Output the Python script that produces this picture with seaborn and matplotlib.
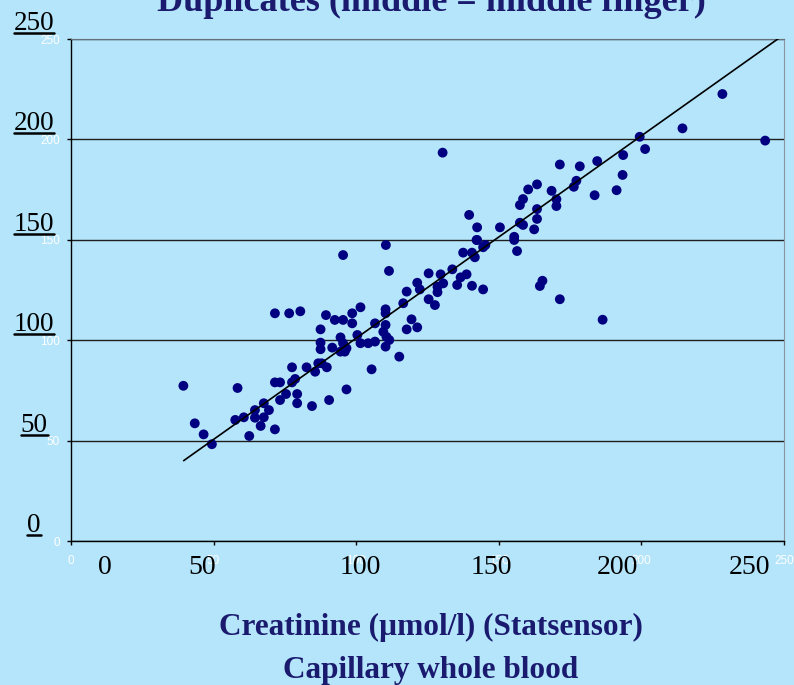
import numpy as np
import pandas as pd
import matplotlib
matplotlib.use("Agg")
import matplotlib.pyplot as plt
import matplotlib.transforms as mtransforms
from matplotlib.lines import Line2D
import seaborn as sns

# creatinine, statsensor (x) vs middle finger duplicate (y)
statsensor = [39.4, 58.4, 43.4, 46.5, 49.4, 57.6, 60.6, 62.5, 64.5, 64.5, 66.5, 67.6, 67.6, 69.4,
              71.5, 71.5, 73.3, 73.3, 75.4, 77.5, 77.5, 78.6, 79.3, 79.3, 82.6, 84.5, 85.6, 86.7,
              87.9, 89.7, 90.5,
              71.5, 76.5, 80.4, 89.4, 92.5, 95.4, 98.6, 101.5, 98.6, 87.5, 87.5, 87.5, 91.6, 94.5,
              95.4, 94.5, 96.0, 96.6, 100.4, 101.5, 104.2, 106.6, 106.6, 109.5, 110.3, 110.3, 110.3,
              110.6, 111.6, 110.3, 105.4, 96.6, 115.1,
              95.4, 110.4, 111.5, 116.5, 117.7, 119.4, 121.4, 117.7, 121.4, 122.3, 125.4, 125.4,
              127.6, 129.6, 130.5, 128.5, 128.5, 133.7, 135.4, 136.6, 138.7, 140.6, 144.5, 137.5,
              140.6, 141.6, 144.5, 145.3, 142.2,
              130.3, 171.4, 178.4, 163.4, 160.3, 168.5, 158.5, 157.4, 170.2, 170.2, 176.3, 177.2,
              163.4, 163.4, 162.4, 157.4, 158.5, 150.4, 155.4, 155.4, 156.4, 139.6, 142.4, 142.4,
              228.4, 214.4, 199.4, 243.4, 201.3, 193.6, 184.5, 193.4, 191.3, 183.6,
              165.3, 164.4, 171.4, 186.4]
middle = [77.3, 76.2, 58.6, 53.1, 48.2, 60.3, 61.6, 52.3, 65.2, 61.4, 57.3, 68.6, 61.6, 65.2,
          55.6, 79.0, 79.0, 70.2, 73.2, 86.5, 79.0, 80.7, 73.2, 68.6, 86.5, 67.2, 84.3, 88.5,
          88.5, 86.5, 70.2,
          113.4, 113.4, 114.4, 112.5, 110.1, 110.1, 113.4, 116.4, 108.4, 105.4, 98.8, 95.5, 96.3, 101.4,
          98.5, 94.3, 94.3, 96.0, 102.6, 98.5, 98.5, 99.3, 108.4, 104.2, 115.4, 113.4, 107.6,
          101.7, 100.1, 96.8, 85.5, 75.5, 91.8,
          142.4, 147.4, 134.5, 118.4, 124.2, 110.4, 106.4, 105.4, 128.6, 125.3, 133.3, 120.4,
          117.5, 132.8, 128.3, 126.6, 123.9, 135.3, 127.5, 131.3, 132.8, 127.1, 125.3, 143.6,
          143.6, 141.3, 146.3, 147.4, 149.9,
          193.4, 187.5, 186.6, 177.6, 175.1, 174.4, 170.3, 167.3, 170.2, 166.8, 176.4, 179.4,
          165.3, 160.4, 155.2, 158.5, 157.4, 156.2, 151.5, 149.9, 144.4, 162.4, 156.2, 149.9,
          222.6, 205.5, 201.3, 199.4, 195.2, 192.2, 189.2, 182.3, 174.7, 172.2,
          129.6, 127.0, 120.4, 110.2]

# trend line
fit_x = [39.5, 250]
fit_slope = 1.008
fit_intercept = 0.2

ticks = [0, 50, 100, 150, 200, 250]
# hand placed big x labels (pixel centres on the slide)
big_x_pos = [105, 202, 360, 491, 617, 749]

title = "Duplicates (middle = middle finger)"
xlabel1 = "Creatinine (\u00b5mol/l) (Statsensor)"
xlabel2 = "Capillary whole blood"

sns.set_style("white")
plt.rcParams['font.family'] = ['Liberation Sans', 'DejaVu Sans']

bg = '#B4E5FB'
navy = '#1a1a6e'
W, H = 794, 685
fig = plt.figure(figsize=(W / 100, H / 100), dpi=100, facecolor=bg)
ax = fig.add_axes([71 / W, 1 - 541 / H, 713 / W, 502 / H])
ax.set_facecolor(bg)

df = pd.DataFrame({'statsensor': statsensor, 'middle': middle})
sns.scatterplot(data=df, x='statsensor', y='middle', color='#000080', s=50,
                edgecolor='none', linewidth=0, ax=ax, zorder=3)

fit = pd.DataFrame({'x': fit_x, 'y': [fit_slope * v + fit_intercept for v in fit_x]})
sns.lineplot(data=fit, x='x', y='y', color='black', lw=1.2, ax=ax, zorder=4)

ax.set_xlim(0, 250)
ax.set_ylim(0, 250)
ax.set_xticks(ticks)
ax.set_yticks(ticks)
ax.set_xlabel('')
ax.set_ylabel('')
ax.yaxis.grid(True, color='#1e1e1e', lw=1)
ax.xaxis.grid(False)
ax.set_axisbelow(True)

for s in ['left', 'bottom']:
    ax.spines[s].set_color('black')
    ax.spines[s].set_linewidth(1)
ax.spines['top'].set_color('#66727a')
ax.spines['right'].set_color('#8a969e')
for s in ax.spines.values():
    s.set_visible(True)

ax.tick_params(axis='x', labelcolor='white', color='black', length=3, width=1,
               direction='out', pad=7, labelsize=8.5, bottom=True)
ax.tick_params(axis='y', labelcolor='white', color='black', length=3, width=1,
               direction='out', pad=5, labelsize=8.5, left=True)

# big underlined y labels
ytrans = mtransforms.offset_copy(
    mtransforms.blended_transform_factory(ax.transAxes, ax.transData),
    fig=fig, x=0, y=9, units='dots')
ylabs = []
for t in ticks:
    ylabs.append(ax.text((34 - 71) / 713, t, str(t), transform=ytrans, ha='center',
                         va='baseline', fontsize=19.5, family='Liberation Serif',
                         color='black', clip_on=False))

# big x labels
for t, px in zip(ticks, big_x_pos):
    fig.text(px / W, 1 - 568 / H, str(t), ha='center', va='center', fontsize=20,
             family='Liberation Serif', color='black')

fig.text(431 / W, 1 - 11 / H, title, ha='center', va='baseline', fontsize=26,
         fontweight='bold', family='Liberation Serif', color=navy)
fig.text(431 / W, 1 - 635 / H, xlabel1, ha='center', va='baseline', fontsize=22.5,
         fontweight='bold', family='Liberation Serif', color=navy)
fig.text(431 / W, 1 - 678 / H, xlabel2, ha='center', va='baseline', fontsize=22.5,
         fontweight='bold', family='Liberation Serif', color=navy)

# underline under the big y labels (3 px below the baseline)
renderer = fig.canvas.get_renderer()
for txt, t in zip(ylabs, ticks):
    bb = txt.get_window_extent(renderer)
    base = ytrans.transform((0, t))[1]
    yline = base - 3
    fig.add_artist(Line2D([bb.x0 / W, bb.x1 / W], [yline / H, yline / H],
                          color='black', lw=1.8))

fig.savefig('out.png', dpi=100, facecolor=bg)
